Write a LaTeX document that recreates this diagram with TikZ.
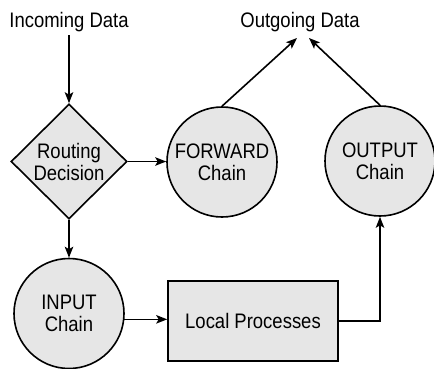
\documentclass[tikz,border=0pt]{standalone}
\usepackage{fontspec}
\setmainfont{Liberation Sans}[FakeStretch=0.88]
\usetikzlibrary{shapes.geometric,arrows.meta}
\definecolor{boxgray}{HTML}{E6E6E6}
\begin{document}
\begin{tikzpicture}[x=1pt,y=1pt,
  every node/.style={font=\fontsize{21}{22}\selectfont, align=center},
  chainnode/.style={circle, draw, line width=1.6pt, fill=boxgray, minimum size=110pt, inner sep=0pt},
  decisionnode/.style={diamond, draw, line width=1.6pt, fill=boxgray, minimum width=116pt, minimum height=115pt, inner sep=0pt},
  procbox/.style={rectangle, draw, line width=1.6pt, fill=boxgray, minimum width=170pt, minimum height=80pt},
  arr/.style={line width=1.6pt, -{Stealth[length=11pt,width=8.5pt,inset=2.5pt]}},
  label/.style={anchor=base}]
\useasboundingbox (0,0) rectangle (434,-368);
\node[label] (incoming) at (69,-27) {Incoming Data};
\node[label] (outgoing) at (300,-27) {Outgoing Data};
\coordinate (inend) at (69,-35);
\coordinate (outl) at (297,-38);
\coordinate (outr) at (309,-38);
\node[decisionnode] (route) at (69,-161.5) {Routing\\Decision};
\node[chainnode] (fwd) at (222,-162) {FORWARD\\Chain};
\node[chainnode, minimum size=110pt] (out) at (380,-161) {OUTPUT\\Chain};
\node[chainnode] (input) at (69,-313.5) {INPUT\\Chain};
\node[procbox] (local) at (253,-320.7) {Local Processes};
\draw[arr] (inend) -- (route.north);
\draw[arr] (route.east) -- (route.east -| fwd.west);
\draw[arr] (route.south) -- (input.north);
\draw[arr] (input.-6) -- (input.-6 -| local.west);
\draw[arr] (local.east) -| (out.south);
\draw[arr] (fwd.north) -- (outl);
\draw[arr] (out.north) -- (outr);
\end{tikzpicture}
\end{document}
